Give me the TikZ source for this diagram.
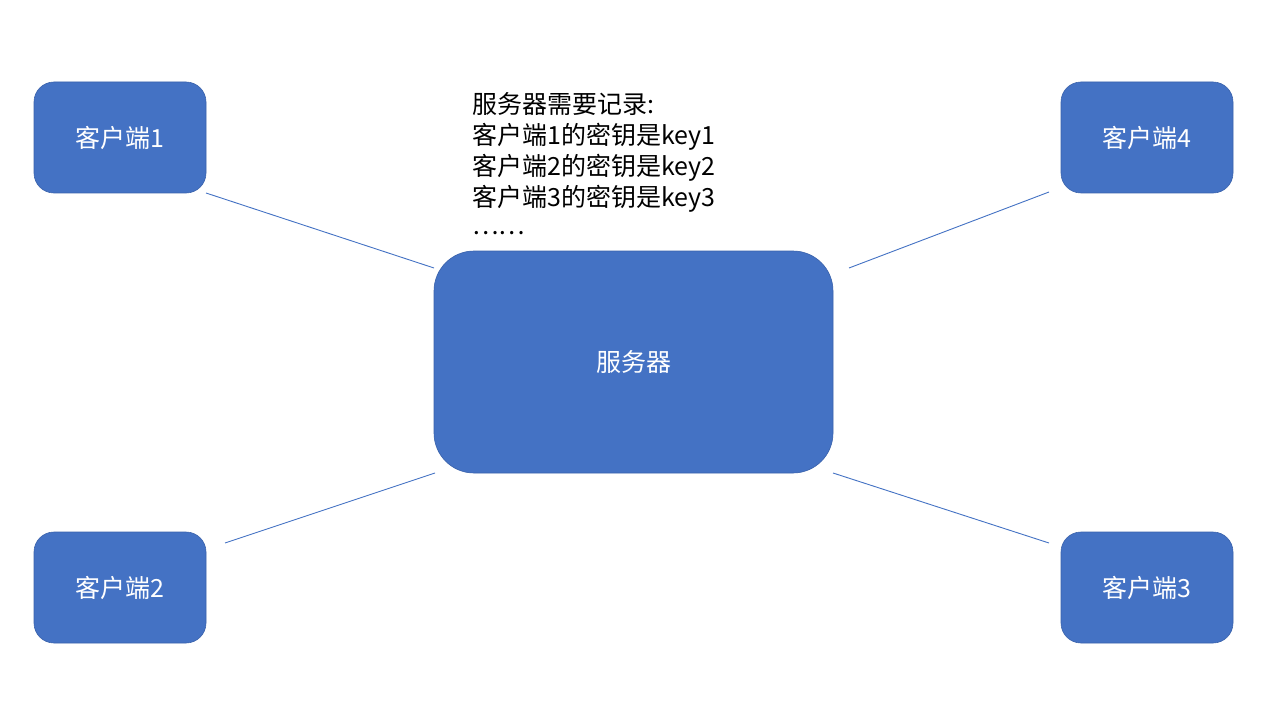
\documentclass[tikz,border=0pt]{standalone}
\usepackage{fontspec}
\setmainfont{Noto Sans CJK SC}
\definecolor{boxblue}{HTML}{4472C4}
\definecolor{boxedge}{HTML}{3A62AB}
\begin{document}
\begin{tikzpicture}[x=1pt,y=-1pt,
  client/.style={draw=boxedge, line width=0.6pt, fill=boxblue, rounded corners=20pt,
    minimum width=172pt, minimum height=111pt, text=white, font=\fontsize{25}{30}\selectfont},
  server/.style={draw=boxedge, line width=0.6pt, fill=boxblue, rounded corners=40pt,
    minimum width=399pt, minimum height=222pt, text=white, font=\fontsize{25}{30}\selectfont},
  link/.style={draw=boxblue, line width=0.9pt}]
\useasboundingbox[fill=white] (0,0) rectangle (1276,714);
\node[client] (c1) at (120,137.5) {客户端1};
\node[client] (c4) at (1147,137.5) {客户端4};
\node[client] (c2) at (120,587.5) {客户端2};
\node[client] (c3) at (1147,587.5) {客户端3};
\node[server] (s) at (633.5,362) {服务器};
\node[anchor=north west, inner sep=0pt, align=left,
  font=\fontsize{25}{31}\selectfont] (note) at (472,92)
  {服务器需要记录:\\客户端1的密钥是key1\\客户端2的密钥是key2\\客户端3的密钥是key3\\[-3pt]……};
\coordinate (a1) at (206,193);
\coordinate (b1) at (434,268);
\coordinate (a4) at (1049,192);
\coordinate (b4) at (849,268);
\coordinate (a2) at (225,543);
\coordinate (b2) at (435,473);
\coordinate (a3) at (1049,543);
\coordinate (b3) at (833,473);
\draw[link] (a1) -- (b1);
\draw[link] (a4) -- (b4);
\draw[link] (a2) -- (b2);
\draw[link] (a3) -- (b3);
\end{tikzpicture}
\end{document}
